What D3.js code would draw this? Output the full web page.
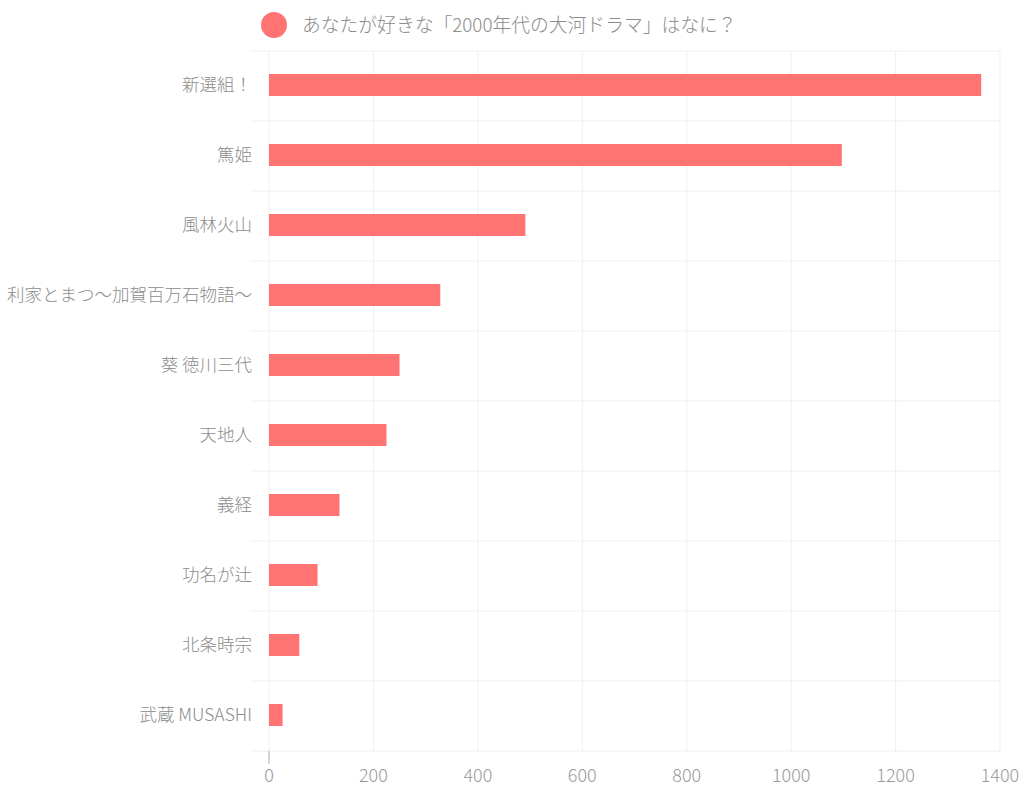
<!DOCTYPE html>
<html>
<head>
<meta charset="utf-8">
<script src="https://cdn.jsdelivr.net/npm/d3@7"></script>
<style>
  body { margin: 0; background: #fff; }
  text { font-family: "Noto Sans CJK JP", "Noto Sans", sans-serif; font-weight: 300; }
</style>
</head>
<body>
<div id="chart"></div>
<script>
const titles = ["新選組！", "篤姫", "風林火山", "利家とまつ〜加賀百万石物語〜", "葵 徳川三代",
  "天地人", "義経", "功名が辻", "北条時宗", "武蔵 MUSASHI"];
const votes = [1364, 1097, 491, 328, 250, 225, 135, 93, 58, 26];
const xTicks = [0, 200, 400, 600, 800, 1000, 1200, 1400];
const seriesName = "あなたが好きな「2000年代の大河ドラマ」はなに？";

const width = 1024, height = 793;
const plotLeft = 269, plotRight = 1000, plotTop = 51, plotBottom = 751;

const svg = d3.select("#chart").append("svg")
  .attr("width", width).attr("height", height);

const x = d3.scaleLinear().domain([0, 1400]).range([plotLeft, plotRight]);
const y = d3.scaleBand().domain(titles).range([plotTop, plotBottom]).paddingInner(0).paddingOuter(0);
const barH = 22;

// grid
svg.append("g").selectAll("line")
  .data(xTicks)
  .join("line")
  .attr("x1", d => x(d)).attr("x2", d => x(d))
  .attr("y1", plotTop).attr("y2", plotBottom)
  .attr("stroke", "#efefef");

const hLines = titles.map(t => y(t)).concat([plotBottom]);
svg.append("g").selectAll("line")
  .data(hLines)
  .join("line")
  .attr("x1", 250).attr("x2", plotRight)
  .attr("y1", d => d).attr("y2", d => d)
  .attr("stroke", "#efefef");

// zero line tick below plot
svg.append("line")
  .attr("x1", x(0)).attr("x2", x(0))
  .attr("y1", plotBottom).attr("y2", plotBottom + 13)
  .attr("stroke", "#aaa");

// x axis labels
svg.append("g").selectAll("text")
  .data(xTicks)
  .join("text")
  .attr("x", d => x(d)).attr("y", 782)
  .attr("text-anchor", "middle")
  .attr("fill", "#999")
  .style("font-size", "18px")
  .text(d => d);

// bars
svg.append("g").selectAll("rect")
  .data(votes)
  .join("rect")
  .attr("x", x(0))
  .attr("y", (d, i) => y(titles[i]) + y.bandwidth() / 2 - barH / 2 - 1)
  .attr("width", d => x(d) - x(0))
  .attr("height", barH)
  .attr("fill", "#ff7373");

// y labels
svg.append("g").selectAll("text")
  .data(titles)
  .join("text")
  .attr("x", 252)
  .attr("y", d => y(d) + y.bandwidth() / 2 - 1)
  .attr("dy", "0.35em")
  .attr("text-anchor", "end")
  .attr("fill", "#8c8c8c")
  .style("font-size", "17.5px")
  .text(d => d);

// legend
svg.append("circle")
  .attr("cx", 274).attr("cy", 25).attr("r", 13)
  .attr("fill", "#ff7373");
svg.append("text")
  .attr("x", 302).attr("y", 25).attr("dy", "0.35em")
  .attr("fill", "#8c8c8c")
  .style("font-size", "18.8px")
  .text(seriesName);
</script>
</body>
</html>
